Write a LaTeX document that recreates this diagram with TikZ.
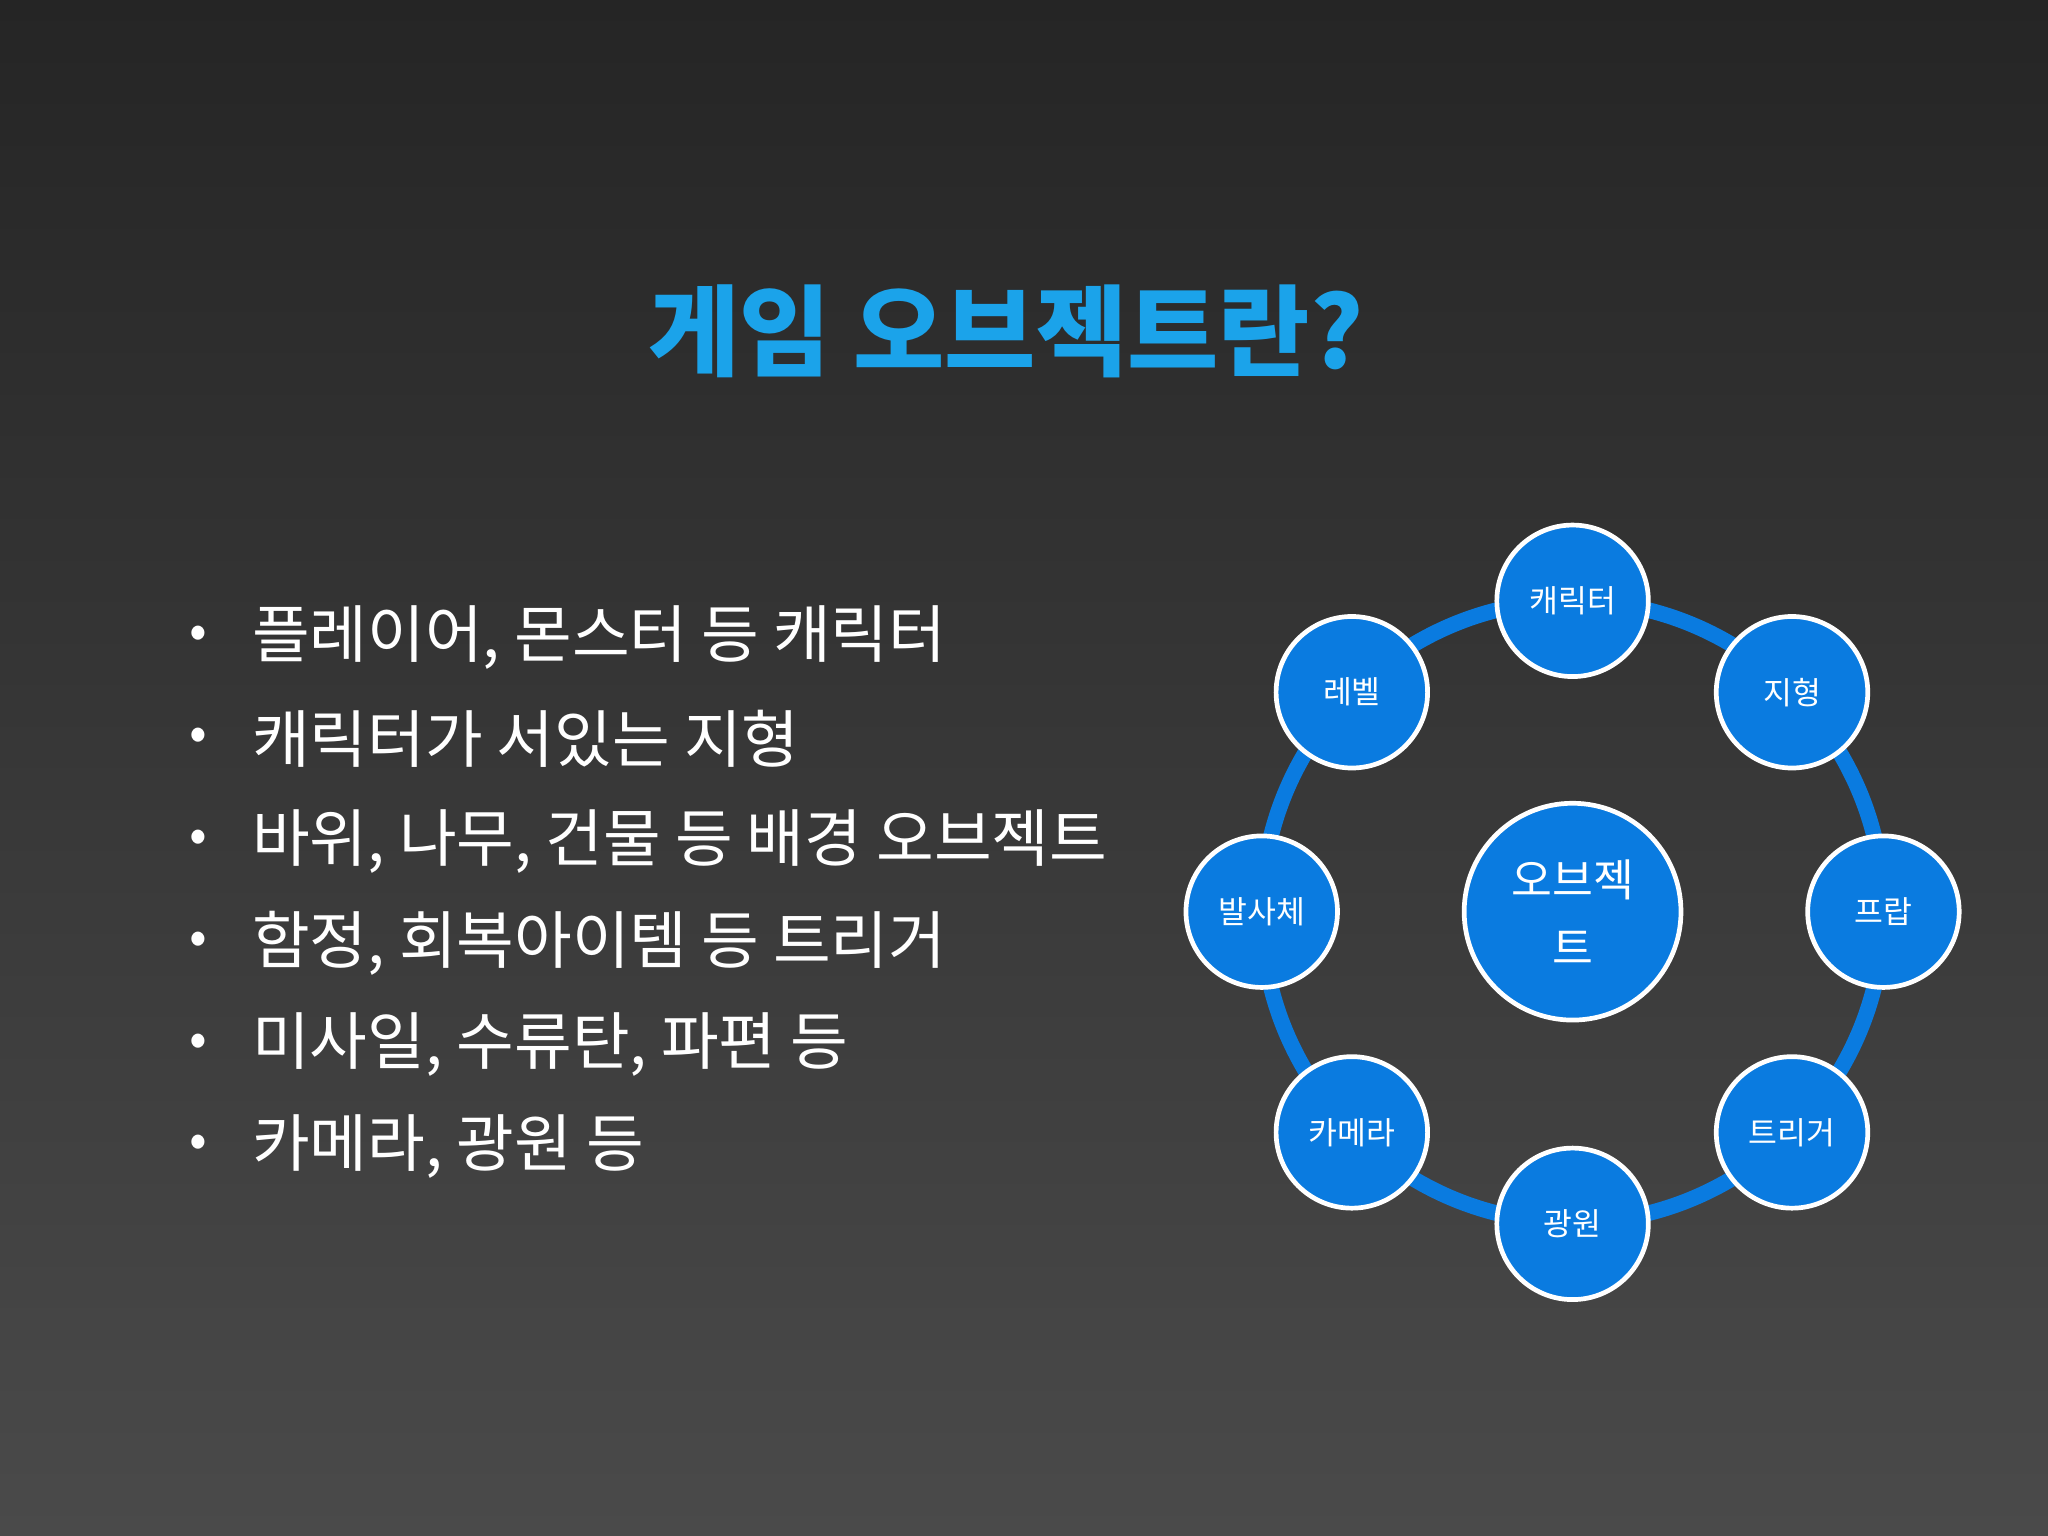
\documentclass[tikz,border=0pt]{standalone}
\usepackage{fontspec}
\setmainfont{Noto Sans CJK KR}
\definecolor{nodeblue}{HTML}{0A7BE0}
\definecolor{titleblue}{HTML}{1BA3EA}
\definecolor{bgtop}{HTML}{252525}
\definecolor{bgbot}{HTML}{4A4A4A}
\begin{document}
\begin{tikzpicture}[x=0.5pt,y=-0.5pt,
  small/.style={circle,fill=nodeblue,draw=white,line width=1.8pt,minimum size=58pt,inner sep=0pt,text=white,font=\fontsize{12}{14}\selectfont},
  big/.style={circle,fill=nodeblue,draw=white,line width=1.8pt,minimum size=83pt,inner sep=0pt,text=white,align=center,font=\fontsize{17}{26}\selectfont},
  bullet/.style={anchor=west,text=white,font=\fontsize{24}{26}\selectfont}]
\shade[top color=bgtop,bottom color=bgbot] (0,0) rectangle (1568,1176);
\useasboundingbox (0,0) rectangle (1568,1176);
\node[text=titleblue,font=\fontsize{38}{40}\selectfont\bfseries] (title) at (770,254) {게임 오브젝트란?};
\foreach \t [count=\i] in {{플레이어, 몬스터 등 캐릭터},캐릭터가 서있는 지형,{바위, 나무, 건물 등 배경 오브젝트},{함정, 회복아이템 등 트리거},{미사일, 수류탄, 파편 등},{카메라, 광원 등}}{
  \node[text=white,font=\fontsize{20}{20}\selectfont] (b\i) at (152,410+78*\i) {•};
  \node[bullet] (t\i) at (186,410+78*\i) {\t};
}
\draw[nodeblue,line width=6pt] (1204,698) circle[radius=238];
\node[big] (c) at (1204,698) {오브젝\\트};
\node[small] (n1) at (1204,460) {캐릭터};
\node[small] (n2) at (1372,530) {지형};
\node[small] (n3) at (1442,698) {프랍};
\node[small] (n4) at (1372,867) {트리거};
\node[small] (n5) at (1204,937) {광원};
\node[small] (n6) at (1035,867) {카메라};
\node[small] (n7) at (966,698) {발사체};
\node[small] (n8) at (1035,530) {레벨};
\end{tikzpicture}
\end{document}
